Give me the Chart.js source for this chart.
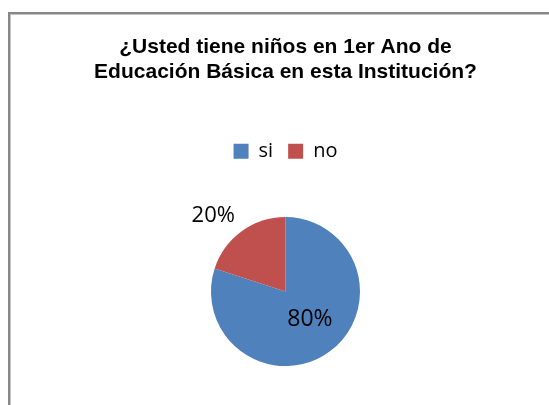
<!DOCTYPE html>
<html>
<head>
<meta charset="utf-8">
<script src="https://cdn.jsdelivr.net/npm/chart.js@4"></script>
<style>
  html, body { margin: 0; padding: 0; background: #fff; }
  body { width: 549px; height: 405px; overflow: hidden; position: relative; }
  #frame { position: absolute; left: 8px; top: 12px; width: 600px; height: 500px;
           border-top: 2px solid #888; border-left: 2px solid #888;
           box-shadow: inset 1px 1px 0 #c4c4c4; }
  #wrap { position: absolute; left: 0; top: 0; width: 549px; height: 405px; }
</style>
</head>
<body>
<div id="frame"></div>
<div id="wrap"><canvas id="c" width="549" height="405"></canvas></div>
<script>
const titleLines = ['¿Usted tiene niños en 1er Ano de', 'Educación Básica en esta Institución?'];
const categories = ['si', 'no'];
const values = [80, 20];
const sliceColors = ['#4F81BD', '#C0504D'];

const legendSpacer = {
  id: 'legendSpacer',
  beforeInit(chart) {
    const orig = chart.legend.fit;
    chart.legend.fit = function () {
      orig.call(this);
      this.height += 7;
    };
  }
};

const pctLabels = {
  id: 'pctLabels',
  afterDatasetsDraw(chart) {
    const ctx = chart.ctx;
    const meta = chart.getDatasetMeta(0);
    const data = chart.data.datasets[0].data;
    const total = data.reduce((a, b) => a + b, 0);
    ctx.save();
    ctx.fillStyle = '#000';
    meta.data.forEach((arc, i) => {
      const p = arc.getProps(['x', 'y', 'startAngle', 'endAngle', 'outerRadius'], true);
      const mid = (p.startAngle + p.endAngle) / 2;
      const frac = data[i] / total;
      const text = Math.round(frac * 100) + '%';
      const c = Math.cos(mid), s = Math.sin(mid);
      if (frac < 0.25) {
        ctx.font = '22px "Open Sans"';
        const d = p.outerRadius + 11.5;
        ctx.textAlign = c < 0 ? 'right' : 'left';
        ctx.textBaseline = s < 0 ? 'alphabetic' : 'top';
        ctx.fillText(text, p.x + c * d, p.y + s * d);
      } else {
        ctx.font = '23px "Open Sans"';
        const d = p.outerRadius * 0.49;
        ctx.textAlign = 'center';
        ctx.textBaseline = 'middle';
        ctx.fillText(text, p.x + c * d + 3, p.y + s * d - 2);
      }
    });
    ctx.restore();
  }
};

new Chart(document.getElementById('c'), {
  type: 'pie',
  data: {
    labels: categories,
    datasets: [{
      data: values,
      backgroundColor: sliceColors,
      borderWidth: 0
    }]
  },
  options: {
    responsive: false,
    animation: false,
    radius: 74.5,
    layout: { padding: { left: 22, right: 0, top: 0, bottom: 0 } },
    plugins: {
      title: {
        display: true,
        text: titleLines,
        color: '#000',
        font: { family: '"Liberation Sans", Arial', size: 21, weight: 'bold', lineHeight: 1.2 },
        padding: { top: 34.5, bottom: 41.3 }
      },
      legend: {
        display: true,
        position: 'top',
        labels: {
          color: '#000',
          boxWidth: 15,
          boxHeight: 15,
          padding: 15,
          font: { family: '"Open Sans"', size: 20 }
        }
      },
      tooltip: { enabled: false }
    }
  },
  plugins: [legendSpacer, pctLabels]
});
</script>
</body>
</html>
